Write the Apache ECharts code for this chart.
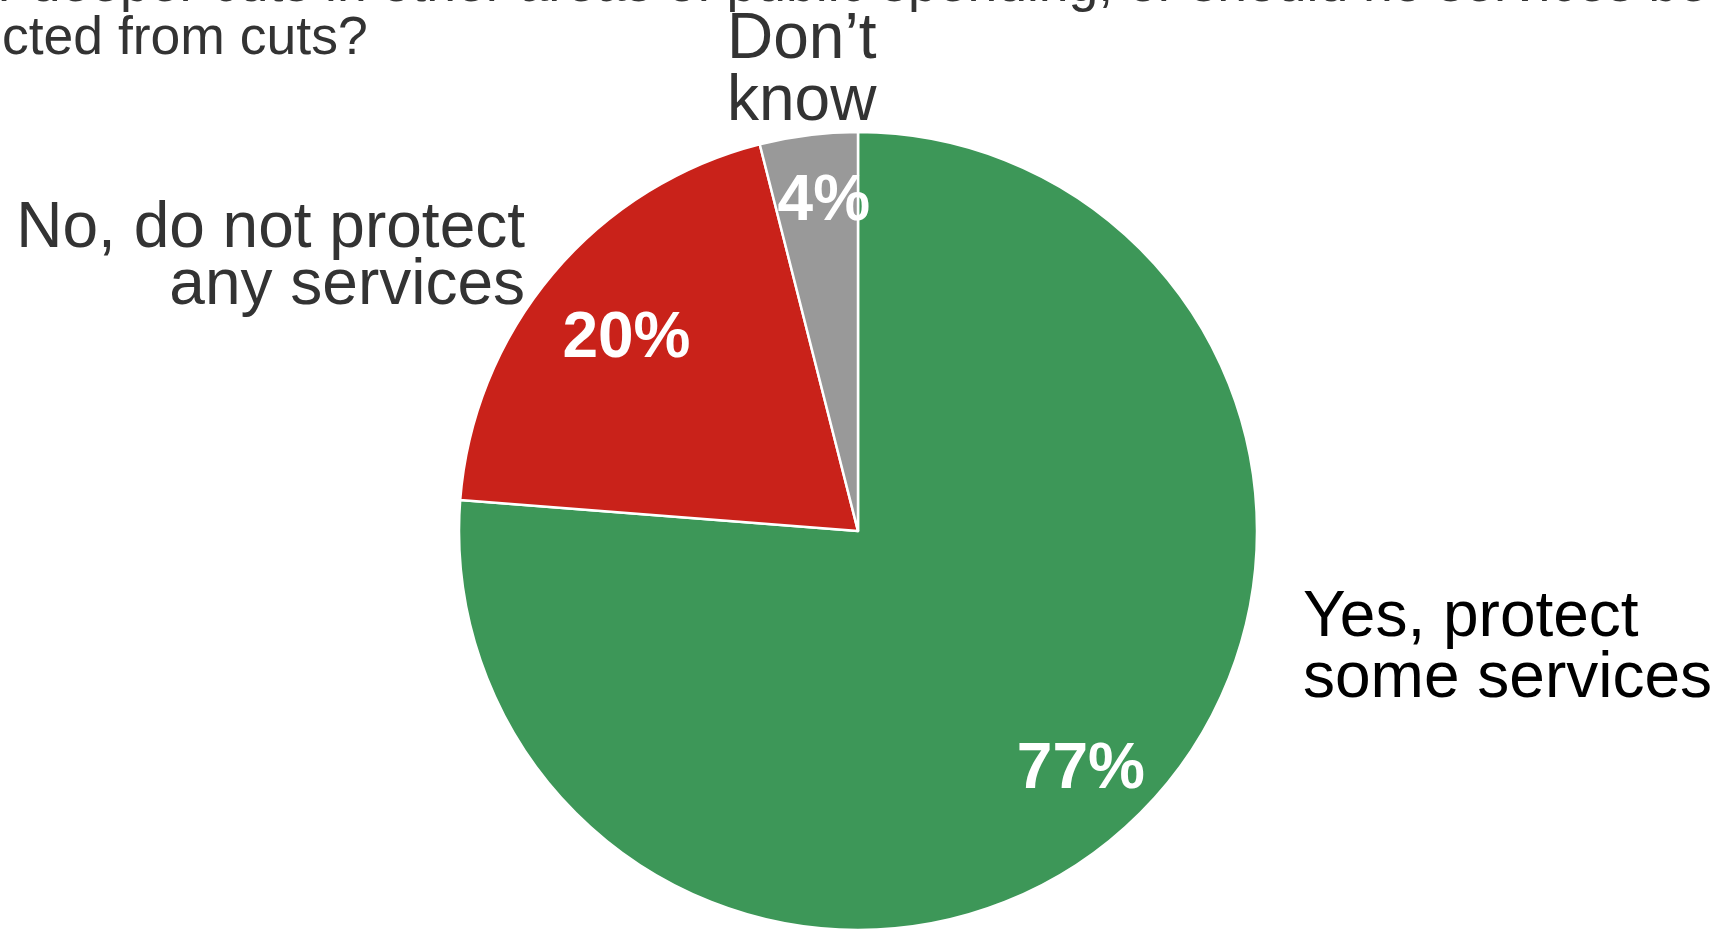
<!DOCTYPE html>
<html>
<head>
<meta charset="utf-8">
<script src="https://cdn.jsdelivr.net/npm/echarts@6/dist/echarts.min.js"></script>
<style>
  html, body { margin: 0; padding: 0; background: #ffffff; }
  #chart { width: 1722px; height: 929px; }
</style>
</head>
<body>
<div id="chart"></div>
<script>
// ---- data ----
const categories = ["Yes, protect\nsome services", "No, do not protect\nany services", "Don\u2019t\nknow"];
const values = [77, 20, 4];   // percent
const titleLines = [
  "even if it means far deeper cuts in other areas of public spending, or should no services be",
  "protected from cuts?"
];

// ---- style / layout ----
const FONT = '"Liberation Sans", Arial, Helvetica, sans-serif';
const colors = ["#3d9758", "#c9221a", "#999999"];
const CENTER = [858, 531];
const R = 399;
const labelRadiusFrac = [0.815, 0.761, 0.845];
const labelNudge = [[0, -2], [3, 6], [8, 9]];
const catLabelLayout = [
  { x: 1303, y: 649, align: "left", fill: "#000000", lineHeight: 61 },
  { x: 525, y: 258, align: "right", fill: "#333333", lineHeight: 57 },
  { x: 727, y: 71, align: "left", fill: "#333333", lineHeight: 62 }
];

const chart = echarts.init(document.getElementById("chart"), null, { renderer: "canvas" });

const series = [{
  type: "pie",
  center: CENTER,
  radius: [0, R],
  startAngle: 90,
  clockwise: true,
  silent: true,
  animation: false,
  label: { show: false },
  labelLine: { show: false },
  itemStyle: { borderColor: "#ffffff", borderWidth: 2.5 },
  data: values.map((v, i) => ({ value: v, name: categories[i], itemStyle: { color: colors[i] } }))
}];

// value labels placed inside the slices at per-slice radii
values.forEach((_, i) => {
  const k = labelRadiusFrac[i];
  series.push({
    type: "pie",
    center: CENTER,
    radius: [(2 * k - 1) * R, R],
    startAngle: 90,
    clockwise: true,
    silent: true,
    animation: false,
    itemStyle: { color: "rgba(0,0,0,0)", borderWidth: 0 },
    labelLine: { show: false },
    label: { show: false },
    labelLayout: { dx: labelNudge[i][0], dy: labelNudge[i][1] },
    data: values.map((v, j) => ({
      value: v,
      name: categories[j],
      label: {
        show: j === i,
        position: "inside",
        formatter: "{c}%",
        color: "#ffffff",
        fontFamily: FONT,
        fontWeight: "bold",
        fontSize: 64
      }
    }))
  });
});

const graphic = categories.map((c, i) => ({
  type: "text",
  silent: true,
  style: {
    text: c,
    x: catLabelLayout[i].x,
    y: catLabelLayout[i].y,
    align: catLabelLayout[i].align,
    verticalAlign: "middle",
    lineHeight: catLabelLayout[i].lineHeight,
    font: "64px " + FONT,
    fill: catLabelLayout[i].fill
  }
}));

graphic.push({
  type: "text", silent: true,
  style: { text: titleLines[0], x: 1708, y: -14, align: "right", verticalAlign: "middle",
           font: "53.5px " + FONT, fill: "#333333" }
});
graphic.push({
  type: "text", silent: true,
  style: { text: titleLines[1], x: -120, y: 39, align: "left", verticalAlign: "middle",
           font: "53.5px " + FONT, fill: "#333333" }
});

chart.setOption({
  backgroundColor: "#ffffff",
  animation: false,
  series: series,
  graphic: graphic
});
</script>
</body>
</html>
